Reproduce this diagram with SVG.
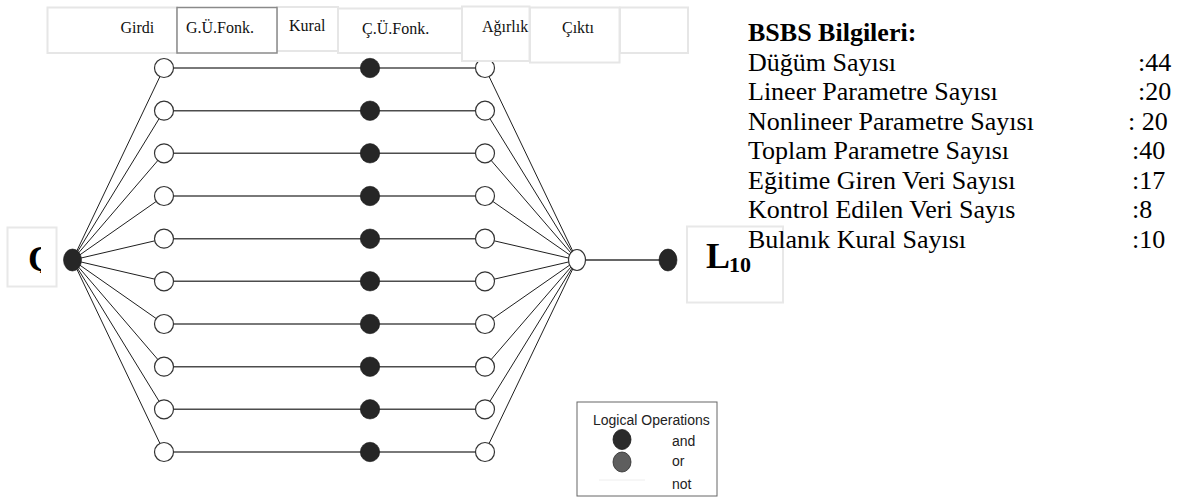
<svg xmlns="http://www.w3.org/2000/svg" width="1181" height="497" viewBox="0 0 1181 497">
  <style>
    .fan { stroke: #1f1f1f; stroke-width: 1; fill: none; }
    .row { stroke: #4d4d4d; stroke-width: 1.6; fill: none; }
    .link { stroke: #333; stroke-width: 1.3; fill: none; }
    .open { fill: #fff; stroke: #333; stroke-width: 1.2; }
    .solid { fill: #262626; stroke: #1a1a1a; stroke-width: 0.6; }
    .hbox { fill: #fff; stroke: #e6e6e6; stroke-width: 2; }
    .hbox-dark { fill: #fff; stroke: #8a8a8a; stroke-width: 1.5; }
    .lbox { fill: #fff; stroke: #e8e8e8; stroke-width: 2; }
    .htext { font-family: "Liberation Serif", "Times New Roman", serif; font-size: 16px; fill: #111; }
    .info { font-family: "Liberation Serif", "Times New Roman", serif; font-size: 26px; fill: #000; }
    .legend { font-family: "Liberation Sans", Arial, sans-serif; font-size: 14px; fill: #222; }
    .big { font-family: "Liberation Serif", "Times New Roman", serif; font-weight: bold; fill: #000; }
  </style>
  <defs>
    <clipPath id="inClip"><rect x="7" y="227" width="34" height="46"/></clipPath>
  </defs>

  <rect width="1181" height="497" fill="#fff"/>

  <!-- end-point label boxes -->
  <g id="input-label">
    <rect class="lbox" x="7.5" y="227.5" width="49" height="59"/>
    <text class="big" x="28" y="271" font-size="36" clip-path="url(#inClip)">Ç</text>
  </g>
  <g id="output-label">
    <rect class="lbox" x="687" y="226.5" width="96" height="76"/>
    <text class="big" x="706" y="268" font-size="36">L</text>
    <text class="big" x="729" y="272" font-size="22">10</text>
  </g>

  <!-- connectors -->
  <g id="connectors">
    <!-- input fan -->
    <line class="fan" x1="72.5" y1="260" x2="164" y2="68"/>
    <line class="fan" x1="72.5" y1="260" x2="164" y2="110.7"/>
    <line class="fan" x1="72.5" y1="260" x2="164" y2="153.3"/>
    <line class="fan" x1="72.5" y1="260" x2="164" y2="196"/>
    <line class="fan" x1="72.5" y1="260" x2="164" y2="238.7"/>
    <line class="fan" x1="72.5" y1="260" x2="164" y2="281.3"/>
    <line class="fan" x1="72.5" y1="260" x2="164" y2="324"/>
    <line class="fan" x1="72.5" y1="260" x2="164" y2="366.7"/>
    <line class="fan" x1="72.5" y1="260" x2="164" y2="409.3"/>
    <line class="fan" x1="72.5" y1="260" x2="164" y2="452"/>
    <!-- rule rows -->
    <line class="row" x1="164" y1="68" x2="485" y2="68"/>
    <line class="row" x1="164" y1="110.7" x2="485" y2="110.7"/>
    <line class="row" x1="164" y1="153.3" x2="485" y2="153.3"/>
    <line class="row" x1="164" y1="196" x2="485" y2="196"/>
    <line class="row" x1="164" y1="238.7" x2="485" y2="238.7"/>
    <line class="row" x1="164" y1="281.3" x2="485" y2="281.3"/>
    <line class="row" x1="164" y1="324" x2="485" y2="324"/>
    <line class="row" x1="164" y1="366.7" x2="485" y2="366.7"/>
    <line class="row" x1="164" y1="409.3" x2="485" y2="409.3"/>
    <line class="row" x1="164" y1="452" x2="485" y2="452"/>
    <!-- output fan -->
    <line class="fan" x1="485" y1="68" x2="577" y2="260"/>
    <line class="fan" x1="485" y1="110.7" x2="577" y2="260"/>
    <line class="fan" x1="485" y1="153.3" x2="577" y2="260"/>
    <line class="fan" x1="485" y1="196" x2="577" y2="260"/>
    <line class="fan" x1="485" y1="238.7" x2="577" y2="260"/>
    <line class="fan" x1="485" y1="281.3" x2="577" y2="260"/>
    <line class="fan" x1="485" y1="324" x2="577" y2="260"/>
    <line class="fan" x1="485" y1="366.7" x2="577" y2="260"/>
    <line class="fan" x1="485" y1="409.3" x2="577" y2="260"/>
    <line class="fan" x1="485" y1="452" x2="577" y2="260"/>
    <!-- output link -->
    <line class="link" x1="577" y1="260" x2="668" y2="260"/>
  </g>

  <!-- nodes -->
  <g id="node-input"><ellipse class="solid" cx="72.5" cy="260" rx="9" ry="11"/></g>

  <g id="nodes-membership-in">
    <circle class="open" cx="164" cy="68" r="9.5"/>
    <circle class="open" cx="164" cy="110.7" r="9.5"/>
    <circle class="open" cx="164" cy="153.3" r="9.5"/>
    <circle class="open" cx="164" cy="196" r="9.5"/>
    <circle class="open" cx="164" cy="238.7" r="9.5"/>
    <circle class="open" cx="164" cy="281.3" r="9.5"/>
    <circle class="open" cx="164" cy="324" r="9.5"/>
    <circle class="open" cx="164" cy="366.7" r="9.5"/>
    <circle class="open" cx="164" cy="409.3" r="9.5"/>
    <circle class="open" cx="164" cy="452" r="9.5"/>
  </g>

  <g id="nodes-rules">
    <circle class="solid" cx="370" cy="68" r="9.7"/>
    <circle class="solid" cx="370" cy="110.7" r="9.7"/>
    <circle class="solid" cx="370" cy="153.3" r="9.7"/>
    <circle class="solid" cx="370" cy="196" r="9.7"/>
    <circle class="solid" cx="370" cy="238.7" r="9.7"/>
    <circle class="solid" cx="370" cy="281.3" r="9.7"/>
    <circle class="solid" cx="370" cy="324" r="9.7"/>
    <circle class="solid" cx="370" cy="366.7" r="9.7"/>
    <circle class="solid" cx="370" cy="409.3" r="9.7"/>
    <circle class="solid" cx="370" cy="452" r="9.7"/>
  </g>

  <g id="nodes-membership-out">
    <circle class="open" cx="485" cy="68" r="9.5"/>
    <circle class="open" cx="485" cy="110.7" r="9.5"/>
    <circle class="open" cx="485" cy="153.3" r="9.5"/>
    <circle class="open" cx="485" cy="196" r="9.5"/>
    <circle class="open" cx="485" cy="238.7" r="9.5"/>
    <circle class="open" cx="485" cy="281.3" r="9.5"/>
    <circle class="open" cx="485" cy="324" r="9.5"/>
    <circle class="open" cx="485" cy="366.7" r="9.5"/>
    <circle class="open" cx="485" cy="409.3" r="9.5"/>
    <circle class="open" cx="485" cy="452" r="9.5"/>
  </g>

  <g id="node-sum"><ellipse class="open" cx="577" cy="260" rx="8.5" ry="10.5"/></g>
  <g id="node-output"><ellipse class="solid" cx="668" cy="260" rx="9" ry="11"/></g>

  <!-- column headers -->
  <g id="headers">
    <rect class="hbox" x="47.5" y="7.5" width="129.5" height="45.5"/>
    <rect class="hbox" x="277" y="7" width="61" height="44"/>
    <rect class="hbox" x="338" y="8.5" width="124" height="44.5"/>
    <rect class="hbox" x="620" y="7.5" width="68" height="45.5"/>
    <rect class="hbox-dark" x="177" y="7.5" width="100" height="45.5"/>
    <rect class="hbox" x="462" y="6.5" width="67.5" height="54.5"/>
    <rect class="hbox" x="530" y="7.5" width="89.5" height="55"/>
    <text class="htext" x="120.5" y="33">Girdi</text>
    <text class="htext" x="186" y="33">G.Ü.Fonk.</text>
    <text class="htext" x="289" y="30.5">Kural</text>
    <text class="htext" x="362" y="34">Ç.Ü.Fonk.</text>
    <text class="htext" x="482" y="31.5">Ağırlık</text>
    <text class="htext" x="562" y="33">Çıktı</text>
  </g>

  <!-- summary of the network -->
  <g id="info">
    <text class="info" x="748" y="41" font-weight="bold">BSBS Bilgileri:</text>
    <text class="info" x="748" y="70.5">Düğüm Sayısı</text>
    <text class="info" x="748" y="100">Lineer Parametre Sayısı</text>
    <text class="info" x="748" y="129.5">Nonlineer Parametre Sayısı</text>
    <text class="info" x="748" y="159">Toplam Parametre Sayısı</text>
    <text class="info" x="748" y="188.5">Eğitime Giren Veri Sayısı</text>
    <text class="info" x="748" y="218">Kontrol Edilen Veri Sayıs</text>
    <text class="info" x="748" y="247.5">Bulanık Kural Sayısı</text>
    <text class="info" x="1138" y="70.5">:44</text>
    <text class="info" x="1138" y="100">:20</text>
    <text class="info" x="1128" y="129.5">: 20</text>
    <text class="info" x="1132" y="159">:40</text>
    <text class="info" x="1132" y="188.5">:17</text>
    <text class="info" x="1132" y="218">:8</text>
    <text class="info" x="1132" y="247.5">:10</text>
  </g>

  <!-- legend -->
  <g id="legend">
    <rect x="577" y="402" width="140" height="94" fill="#fff" stroke="#666" stroke-width="1"/>
    <text class="legend" x="593" y="425">Logical Operations</text>
    <ellipse cx="622" cy="439.5" rx="9" ry="10" fill="#2b2b2b" stroke="#1a1a1a" stroke-width="0.8"/>
    <ellipse cx="622" cy="462" rx="9" ry="10" fill="#5e5e5e" stroke="#2a2a2a" stroke-width="0.8"/>
    <line x1="599" y1="480" x2="645" y2="480" stroke="#eeeeee" stroke-width="1"/>
    <text class="legend" x="672" y="445.5">and</text>
    <text class="legend" x="672" y="466">or</text>
    <text class="legend" x="672" y="488.5">not</text>
  </g>
</svg>
